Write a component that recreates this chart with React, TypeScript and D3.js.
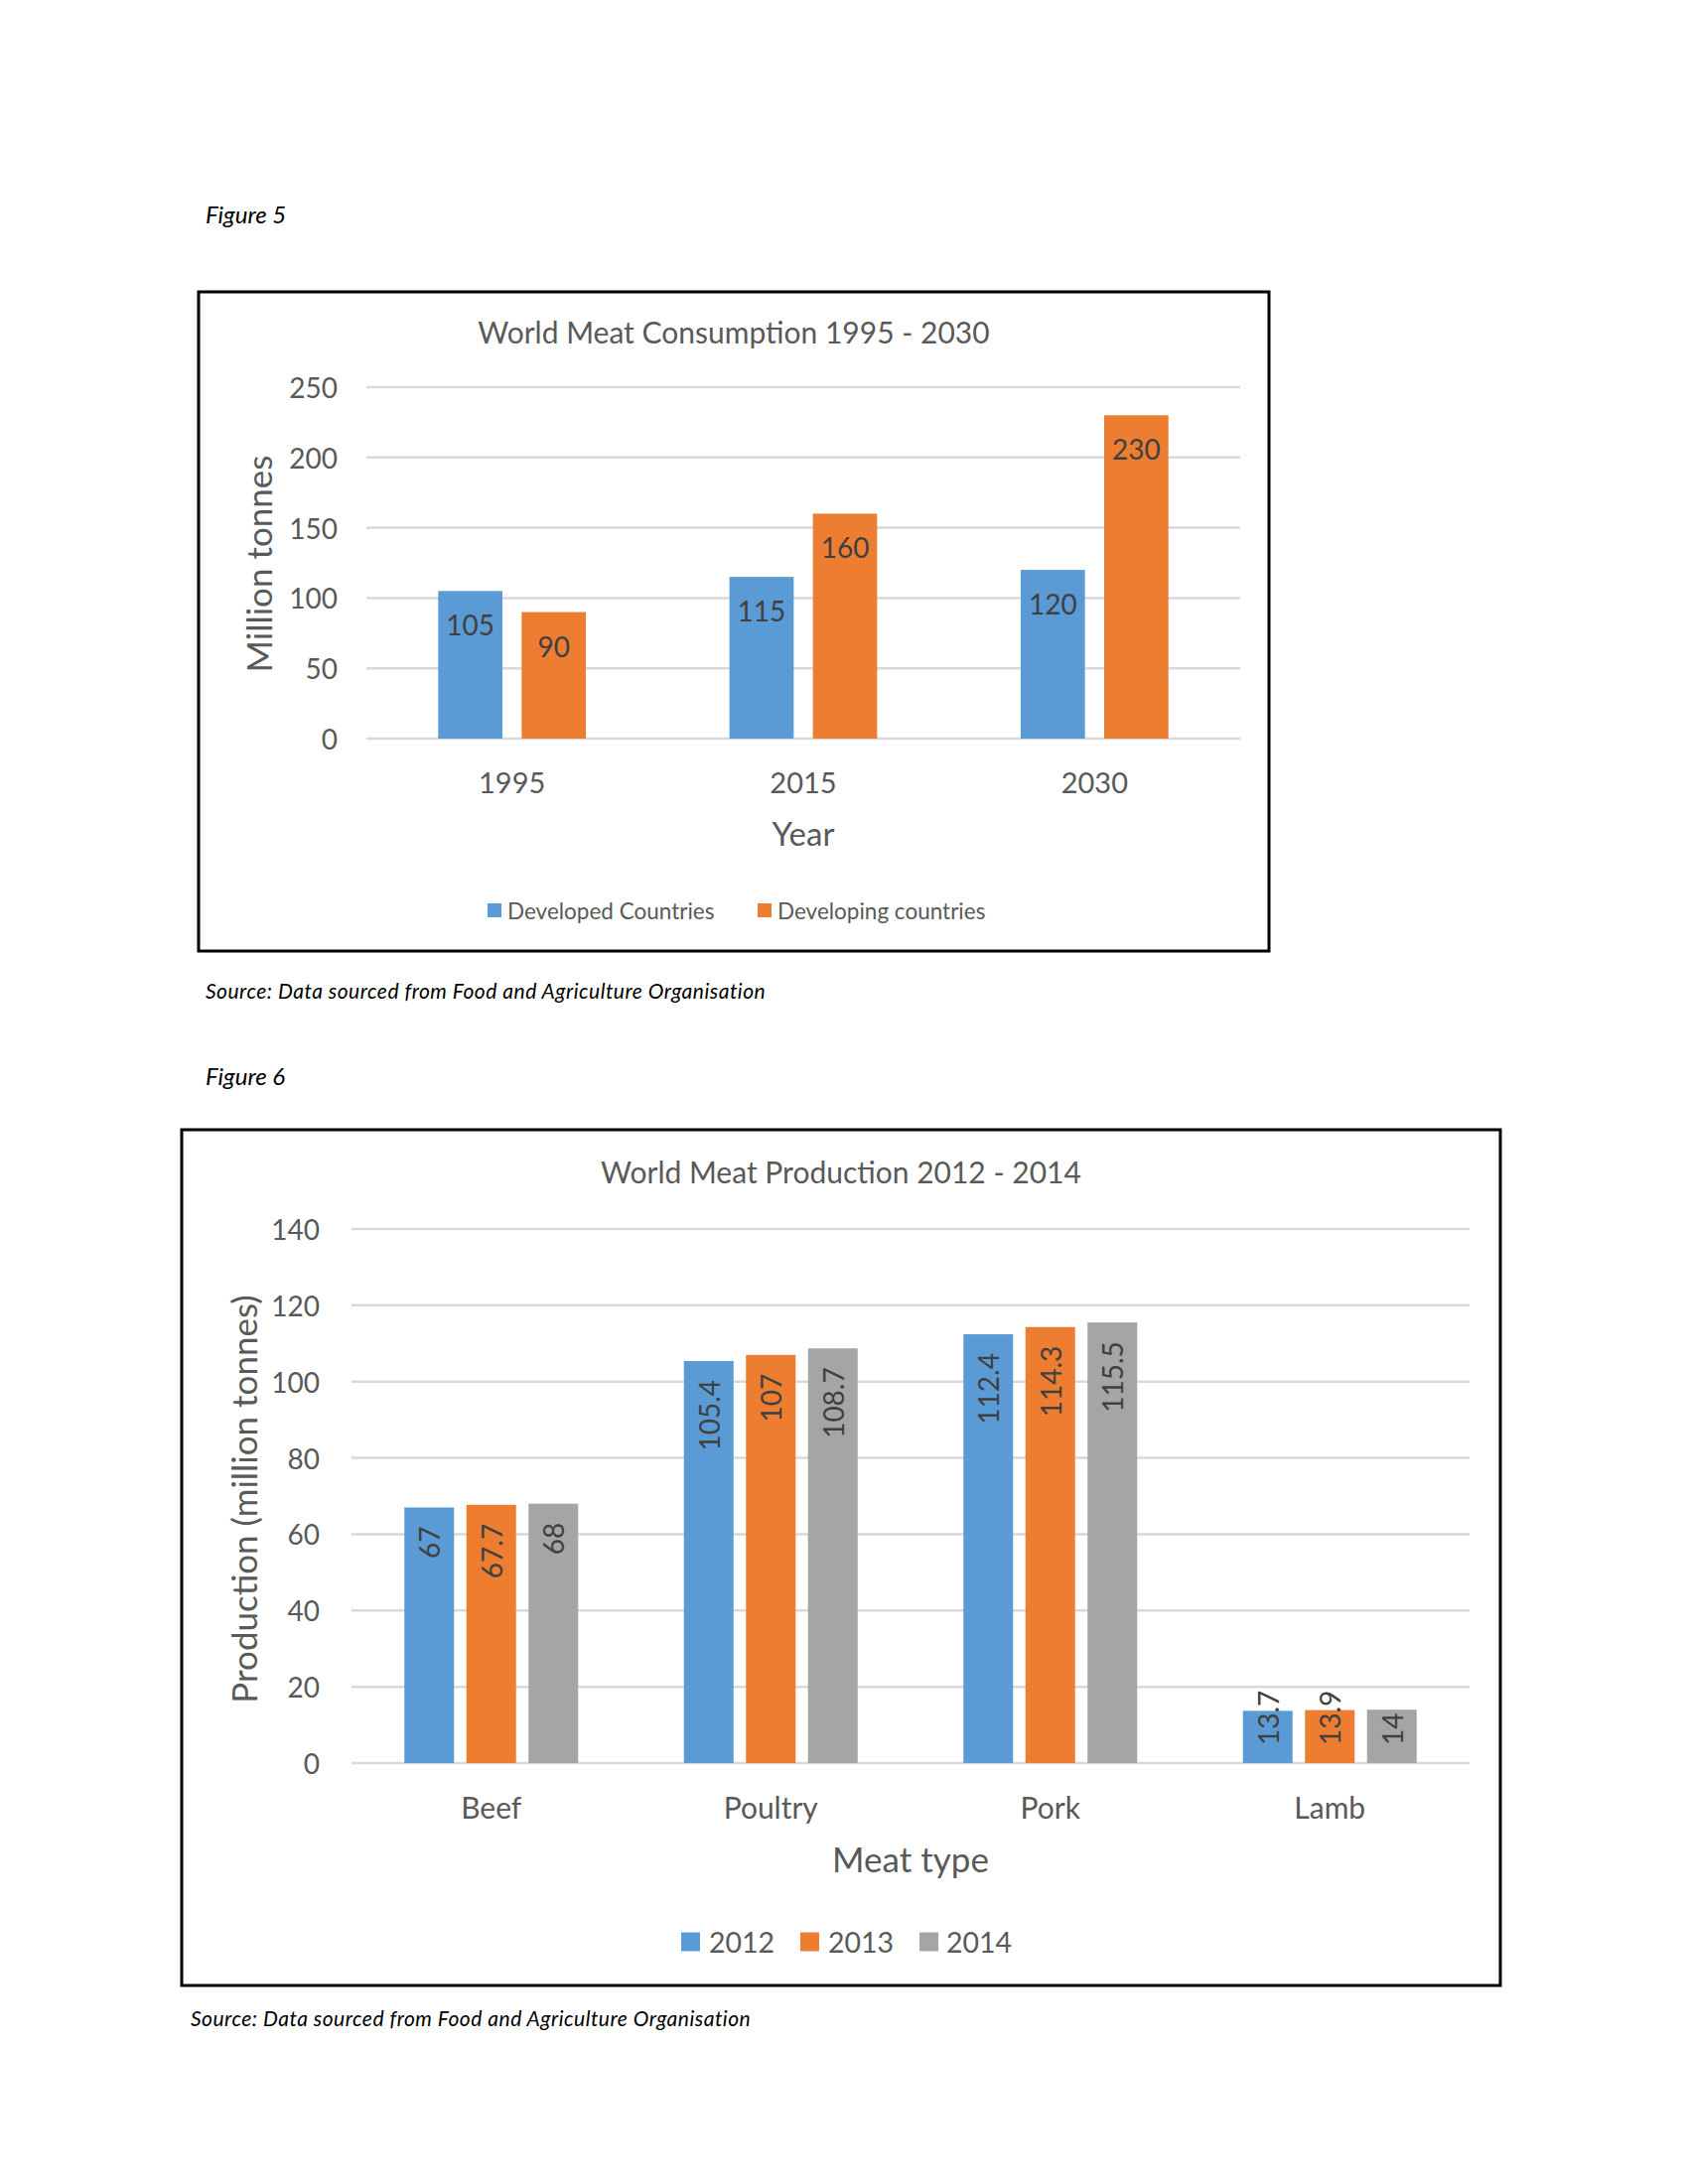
import React from "react";
import * as d3 from "d3";

// Figure 5 data
const consumptionYears = ["1995", "2015", "2030"];
const developedCountries = [105, 115, 120];
const developingCountries = [90, 160, 230];
const consumptionTicks = [0, 50, 100, 150, 200, 250];

// Figure 6 data
const meatTypes = ["Beef", "Poultry", "Pork", "Lamb"];
const production2012 = [67, 105.4, 112.4, 13.7];
const production2013 = [67.7, 107, 114.3, 13.9];
const production2014 = [68, 108.7, 115.5, 14];
const productionTicks = [0, 20, 40, 60, 80, 100, 120, 140];

const BLUE = "#5B9BD5";
const ORANGE = "#ED7D31";
const GRAY = "#A5A5A5";
const GRID = "#D9D9D9";
const AXIS_TEXT = "#595959";
const LABEL_TEXT = "#404040";
const FONT = "Lato, 'Open Sans', sans-serif";

type Series = { name: string; values: number[]; color: string };

type ChartProps = {
    box: [number, number, number, number];
    title: string;
    titleY: number;
    categories: string[];
    series: Series[];
    ticks: number[];
    plot: { left: number; right: number; top: number; bottom: number };
    tickX: number;
    yTitle: string;
    yTitleX: number;
    yTitleY: number;
    xTitle: string;
    xTitleY: number;
    xTitleSize: number;
    catLabelY: number;
    catSize: number;
    padInner: number;
    padOuter: number;
    rotatedLabels: boolean;
    legend: { x: number; text: number }[];
    legendY: number;
    legendSize: number;
    legendSwatch: number;
};

const GroupedBars = (p: ChartProps) => {
    const [bx0, by0, bx1, by1] = p.box;
    const maxTick = p.ticks[p.ticks.length - 1];

    const y = d3.scaleLinear().domain([0, maxTick]).range([p.plot.bottom, p.plot.top]);
    const x0 = d3.scaleBand<string>().domain(p.categories).range([p.plot.left, p.plot.right]);
    const x1 = d3.scaleBand<string>()
        .domain(p.series.map(s => s.name))
        .range([0, x0.bandwidth()])
        .paddingInner(p.padInner)
        .paddingOuter(p.padOuter);

    return (
        <g>
            <rect x={bx0} y={by0} width={bx1 - bx0} height={by1 - by0} fill="#fff" stroke="#000" strokeWidth={3} />
            <text x={(bx0 + bx1) / 2} y={p.titleY} textAnchor="middle" dominantBaseline="central"
                fontSize={30} fill={AXIS_TEXT}>{p.title}</text>

            {/* gridlines + tick labels */}
            {p.ticks.map(t => (
                <g key={t}>
                    <line x1={p.plot.left} x2={p.plot.right} y1={y(t)} y2={y(t)} stroke={GRID} strokeWidth={2.5} />
                    <text x={p.tickX} y={y(t)} textAnchor="end" dominantBaseline="central"
                        fontSize={28} fill={AXIS_TEXT}>{t}</text>
                </g>
            ))}

            {/* bars */}
            {p.categories.map((c, i) => (
                <g key={c} transform={`translate(${x0(c)},0)`}>
                    {p.series.map(s => {
                        const v = s.values[i];
                        const bx = x1(s.name) as number;
                        const bw = x1.bandwidth();
                        const top = y(v);
                        const cx = bx + bw / 2;
                        let label;
                        if (p.rotatedLabels) {
                            const short = p.plot.bottom - top < 100;
                            const ly = short ? p.plot.bottom - 18 : top + 19;
                            label = (
                                <text transform={`translate(${cx},${ly}) rotate(-90)`}
                                    textAnchor={short ? "start" : "end"} dominantBaseline="central"
                                    fontSize={28} fill={LABEL_TEXT}>{v}</text>
                            );
                        } else {
                            label = (
                                <text x={cx} y={top + 34} textAnchor="middle" dominantBaseline="central"
                                    fontSize={28} fill={LABEL_TEXT}>{v}</text>
                            );
                        }
                        return (
                            <g key={s.name}>
                                <rect x={bx} y={top} width={bw} height={p.plot.bottom - top} fill={s.color} />
                                {label}
                            </g>
                        );
                    })}
                    <text x={x0.bandwidth() / 2} y={p.catLabelY} textAnchor="middle" dominantBaseline="central"
                        fontSize={p.catSize} fill={AXIS_TEXT}>{c}</text>
                </g>
            ))}

            <text transform={`translate(${p.yTitleX},${p.yTitleY}) rotate(-90)`} textAnchor="middle"
                dominantBaseline="central" fontSize={35} fill={AXIS_TEXT}>{p.yTitle}</text>
            <text x={(p.plot.left + p.plot.right) / 2} y={p.xTitleY} textAnchor="middle" dominantBaseline="central"
                fontSize={p.xTitleSize} fill={AXIS_TEXT}>{p.xTitle}</text>

            {/* legend */}
            {p.series.map((s, i) => (
                <g key={s.name}>
                    <rect x={p.legend[i].x} y={p.legendY - p.legendSwatch / 2} width={p.legendSwatch}
                        height={p.legendSwatch} fill={s.color} />
                    <text x={p.legend[i].text} y={p.legendY} dominantBaseline="central"
                        fontSize={p.legendSize} fill={AXIS_TEXT}>{s.name}</text>
                </g>
            ))}
        </g>
    );
};

const App = () => {
    const consumptionSeries: Series[] = [
        { name: "Developed Countries", values: developedCountries, color: BLUE },
        { name: "Developing countries", values: developingCountries, color: ORANGE },
    ];
    const productionSeries: Series[] = [
        { name: "2012", values: production2012, color: BLUE },
        { name: "2013", values: production2013, color: ORANGE },
        { name: "2014", values: production2014, color: GRAY },
    ];

    return (
        <svg width={1700} height={2200} style={{ position: "absolute", left: 0, top: 0, background: "#fff" }}
            fontFamily={FONT}>
            <rect width={1700} height={2200} fill="#fff" />

            <text x={207} y={215} dominantBaseline="central" fontSize={24} fontStyle="italic" fill="#000">Figure 5</text>
            <GroupedBars
                box={[200, 294, 1278, 958]}
                title="World Meat Consumption 1995 - 2030"
                titleY={334}
                categories={consumptionYears}
                series={consumptionSeries}
                ticks={consumptionTicks}
                plot={{ left: 369, right: 1249, top: 390, bottom: 744 }}
                tickX={340}
                yTitle="Million tonnes"
                yTitleX={260}
                yTitleY={568}
                xTitle="Year"
                xTitleY={839}
                xTitleSize={33}
                catLabelY={787}
                catSize={29}
                padInner={0.23}
                padOuter={0.86}
                rotatedLabels={false}
                legend={[{ x: 491, text: 511 }, { x: 763, text: 783 }]}
                legendY={917}
                legendSize={22.5}
                legendSwatch={14}
            />
            <text x={207} y={997} dominantBaseline="central" fontSize={21} letterSpacing={0.5} fontStyle="italic" fill="#000">
                Source: Data sourced from Food and Agriculture Organisation
            </text>

            <text x={207} y={1083} dominantBaseline="central" fontSize={24} fontStyle="italic" fill="#000">Figure 6</text>
            <GroupedBars
                box={[183, 1138, 1511, 2000]}
                title="World Meat Production 2012 - 2014"
                titleY={1180}
                categories={meatTypes}
                series={productionSeries}
                ticks={productionTicks}
                plot={{ left: 354, right: 1480, top: 1238, bottom: 1776 }}
                tickX={322}
                yTitle="Production (million tonnes)"
                yTitleX={245}
                yTitleY={1510}
                xTitle="Meat type"
                xTitleY={1872}
                xTitleSize={35}
                catLabelY={1820}
                catSize={30}
                padInner={0.2}
                padOuter={0.852}
                rotatedLabels={true}
                legend={[{ x: 686, text: 714 }, { x: 806, text: 834 }, { x: 926, text: 953 }]}
                legendY={1956}
                legendSize={28.5}
                legendSwatch={19}
            />
            <text x={192} y={2032} dominantBaseline="central" fontSize={21} letterSpacing={0.5} fontStyle="italic" fill="#000">
                Source: Data sourced from Food and Agriculture Organisation
            </text>
        </svg>
    );
};

export default App;
